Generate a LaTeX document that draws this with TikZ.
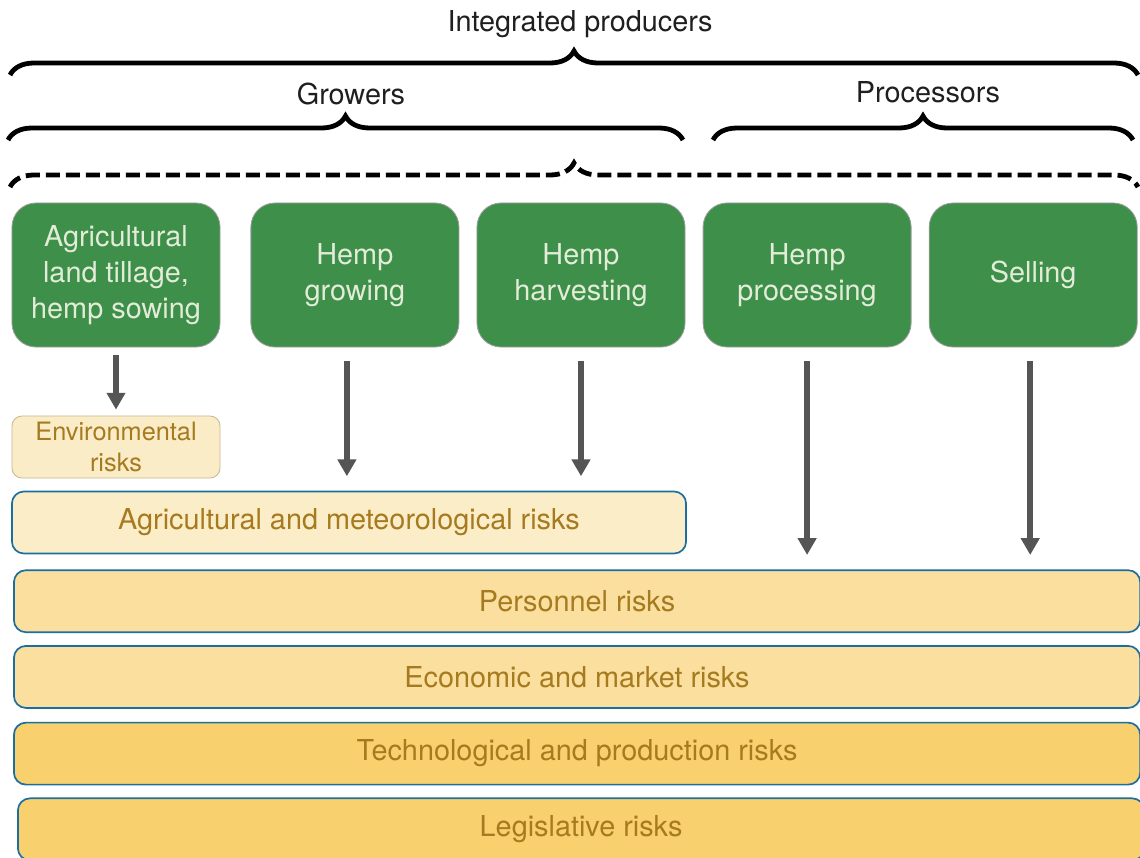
\documentclass[tikz,border=0pt]{standalone}
\usepackage{fontspec}
\setmainfont{TeX Gyre Heros}
\usetikzlibrary{arrows.meta,chains,positioning,scopes,decorations.pathreplacing}
\definecolor{stagegreen}{RGB}{61,143,73}
\definecolor{stagetext}{RGB}{226,236,216}
\definecolor{envfill}{RGB}{251,236,200}
\definecolor{envdraw}{RGB}{200,182,145}
\definecolor{palefill}{RGB}{252,237,201}
\definecolor{midfill}{RGB}{250,223,158}
\definecolor{deepfill}{RGB}{249,208,110}
\definecolor{riskblue}{RGB}{26,110,160}
\definecolor{risktext}{RGB}{166,122,30}
\definecolor{arrowgray}{RGB}{85,85,85}

\begin{document}
\begin{tikzpicture}[x=0.025cm,y=-0.025cm,
  stage/.style={draw=gray!75,line width=0.6pt,fill=stagegreen,rounded corners=0.6cm,
    minimum width=5.2cm,minimum height=3.6cm,align=center,text=stagetext,
    font=\fontsize{20.5}{25.6}\selectfont},
  risk/.style={draw=riskblue,line width=1.2pt,rounded corners=0.3cm,minimum height=1.55cm,
    text=risktext,font=\fontsize{20.5}{25.6}\selectfont},
  bar/.style={risk,minimum width=28.15cm},
  flow/.style={draw=arrowgray,line width=0.14cm,-{Triangle[length=0.42cm,width=0.45cm]},
    shorten <=0.33cm,shorten >=0.36cm},
  group/.style={line width=0.12cm,decorate,decoration={brace,amplitude=0.6cm}},
  grouptext/.style={text=black!88,font=\fontsize{20.5}{25.6}\selectfont}]
  \useasboundingbox (0,0) rectangle (1140,857);
  \clip (0,0) rectangle (1140,857);

  \node[grouptext] (ip) at (580,24) {Integrated producers};
  \draw[group] (10,75) -- (1138,75);
  \node[grouptext] (gr) at (351,94) {Growers};
  \draw[group] (8,140) -- (683,140);
  \node[grouptext] (pr) at (928,92) {Processors};
  \draw[group] (713,140) -- (1133,140);
  \draw[group,dash pattern=on 0.35cm off 0.15cm] (10,187) -- (1138,187);

  {[start chain=going right,node distance=0.43cm]
     \node[on chain,stage] (A) at (116,275) {Agricultural\\land tillage,\\hemp sowing};
     \node[on chain,stage,xshift=0.32cm] (B) {Hemp\\growing};
     \node[on chain,stage] (C) {Hemp\\harvesting};
     \node[on chain,stage] (D) {Hemp\\processing};
     \node[on chain,stage] (E) {Selling};
  }

  \node[risk,draw=envdraw,line width=0.6pt,fill=envfill,rounded corners=0.25cm,
    minimum width=5.2cm,align=center,font=\fontsize{18}{22}\selectfont] (env) at (116,447) {Environmental\\risks};
  \node[risk,fill=palefill,minimum width=16.85cm] (meteo) at (349,522.5) {Agricultural and meteorological risks};
  \node[bar,fill=midfill,below right=0.375cm and 0.05cm of meteo.south west] (pers) {Personnel risks};
  \node[bar,fill=midfill,below=0.3cm of pers] (econ) {Economic and market risks};
  \node[bar,fill=deepfill,below=0.325cm of econ] (tech) {Technological and production risks};
  \node[bar,fill=deepfill,below=0.3cm of tech,xshift=0.1cm] (legis) {Legislative risks};

  \draw[flow,shorten <=0.18cm,shorten >=0.15cm] (A) -- (env);
  \draw[flow] ([xshift=-0.2cm]B.south) -- ([xshift=-0.2cm]B.south |- meteo.north);
  \draw[flow] (C.south) -- (C.south |- meteo.north);
  \draw[flow] (D.south) -- (D.south |- pers.north);
  \draw[flow] ([xshift=-0.075cm]E.south) -- ([xshift=-0.075cm]E.south |- pers.north);
\end{tikzpicture}
\end{document}
